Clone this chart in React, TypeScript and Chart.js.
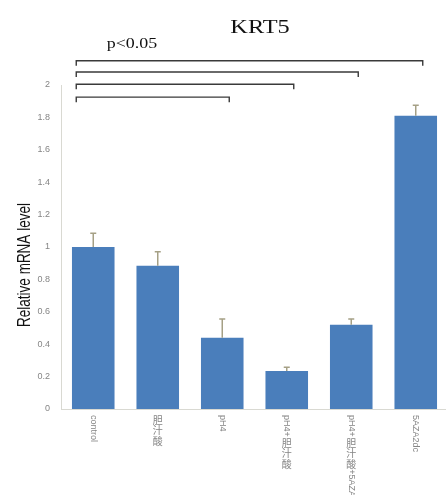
import React, { useEffect, useRef } from "react";
import { Chart, registerables } from "chart.js";

Chart.register(...registerables);

const categories = ["control", "胆汁酸", "pH4", "pH4+胆汁酸", "pH4+胆汁酸+5AZA2dc", "5AZA2dc"];
const values = [1.0, 0.885, 0.44, 0.235, 0.52, 1.81];
const errorUpper = [0.085, 0.085, 0.115, 0.022, 0.035, 0.065];
const yTicks = [0, 0.2, 0.4, 0.6, 0.8, 1, 1.2, 1.4, 1.6, 1.8, 2];
const bracketTargets = [5, 4, 3, 2];
const bracketLevels = [2.15, 2.08, 2.005, 1.925];
const titleText = "KRT5";
const pText = "p<0.05";
const yTitle = "Relative mRNA level";

const BAR = "#4a7ebb";
const ERR = "#a5a085";
const AXIS = "#d9d9d2";
const TICK = "#858585";

const isCJK = (ch: string) => /[\u3400-\u9fff]/.test(ch);

const overlay = {
  id: "overlay",
  afterDatasetsDraw(chart: any) {
    const ctx = chart.ctx as CanvasRenderingContext2D;
    const x = chart.scales.x;
    const y = chart.scales.y;
    const meta = chart.getDatasetMeta(0);

    // error bars (upper only)
    ctx.save();
    ctx.strokeStyle = ERR;
    ctx.lineWidth = 1.5;
    meta.data.forEach((bar: any, i: number) => {
      const cx = bar.x;
      const top = y.getPixelForValue(values[i]);
      const et = y.getPixelForValue(values[i] + errorUpper[i]);
      ctx.beginPath();
      ctx.moveTo(cx, top);
      ctx.lineTo(cx, et);
      ctx.moveTo(cx - 3, et);
      ctx.lineTo(cx + 3, et);
      ctx.stroke();
    });
    ctx.restore();

    // significance brackets
    ctx.save();
    ctx.strokeStyle = "#3a3a3a";
    ctx.lineWidth = 1.4;
    const x0 = x.getPixelForValue(0) - 17;
    bracketTargets.forEach((t, k) => {
      const x1 = x.getPixelForValue(t) + 7;
      const yy = y.getPixelForValue(bracketLevels[k]);
      ctx.beginPath();
      ctx.moveTo(x0, yy + 5);
      ctx.lineTo(x0, yy);
      ctx.lineTo(x1, yy);
      ctx.lineTo(x1, yy + 5);
      ctx.stroke();
    });
    ctx.restore();

    // title and p text (serif, horizontally stretched)
    ctx.save();
    ctx.fillStyle = "#111";
    ctx.textAlign = "center";
    ctx.textBaseline = "alphabetic";
    ctx.translate(260, 33);
    ctx.scale(1.28, 1);
    ctx.font = "19px 'Liberation Serif', serif";
    ctx.fillText(titleText, 0, 0);
    ctx.restore();

    ctx.save();
    ctx.fillStyle = "#111";
    ctx.textAlign = "center";
    ctx.textBaseline = "alphabetic";
    ctx.translate(132, 48);
    ctx.scale(1.28, 1);
    ctx.font = "14px 'Liberation Serif', serif";
    ctx.fillText(pText, 0, 0);
    ctx.restore();

    // y axis title
    ctx.save();
    ctx.fillStyle = "#111";
    ctx.translate(25, 265);
    ctx.rotate(-Math.PI / 2);
    ctx.scale(0.9, 1.25);
    ctx.textAlign = "center";
    ctx.textBaseline = "middle";
    ctx.font = "15px 'Liberation Sans', sans-serif";
    ctx.fillText(yTitle, 0, 0);
    ctx.restore();

    // x labels: Latin rotated clockwise, CJK upright stacked
    ctx.save();
    ctx.fillStyle = TICK;
    categories.forEach((label, i) => {
      const cx = x.getPixelForValue(i);
      let cy = y.bottom + 6;
      const runs: { cjk: boolean; text: string }[] = [];
      for (const ch of label) {
        const c = isCJK(ch);
        if (runs.length && runs[runs.length - 1].cjk === c && !c) runs[runs.length - 1].text += ch;
        else runs.push({ cjk: c, text: ch });
      }
      runs.forEach((r) => {
        if (r.cjk) {
          ctx.font = "10px 'Noto Sans CJK SC', sans-serif";
          ctx.textAlign = "center";
          ctx.textBaseline = "top";
          ctx.fillText(r.text, cx, cy);
          cy += 10.5;
        } else {
          ctx.font = "9px 'Liberation Sans', sans-serif";
          const w = ctx.measureText(r.text).width;
          ctx.save();
          ctx.translate(cx, cy);
          ctx.rotate(Math.PI / 2);
          ctx.textAlign = "left";
          ctx.textBaseline = "middle";
          ctx.fillText(r.text, 0, 0);
          ctx.restore();
          cy += w + 1;
        }
      });
    });
    ctx.restore();
  },
};

export default function App() {
  const ref = useRef<HTMLCanvasElement>(null);
  useEffect(() => {
    if (!ref.current) return;
    const chart = new Chart(ref.current, {
      type: "bar",
      data: {
        labels: categories,
        datasets: [
          {
            data: values,
            backgroundColor: BAR,
            borderWidth: 0,
            barPercentage: 0.66,
            categoryPercentage: 1,
          },
        ],
      },
      options: {
        responsive: false,
        animation: false,
        layout: { padding: { top: 85, left: 0, right: 0, bottom: 0 } },
        plugins: {
          legend: { display: false },
          tooltip: { enabled: false },
          title: { display: false },
        },
        scales: {
          x: {
            grid: { display: false },
            border: { display: true, color: AXIS, width: 1 },
            ticks: { display: false },
            afterFit: (s: any) => {
              s.height = 86;
            },
          },
          y: {
            min: 0,
            max: 2,
            afterBuildTicks: (s: any) => {
              s.ticks = yTicks.map((v) => ({ value: v }));
            },
            ticks: {
              color: TICK,
              padding: 3,
              font: { size: 9, family: "'Liberation Sans', sans-serif" },
              callback: (v: any) => String(Number(Number(v).toFixed(1))),
            },
            grid: { display: false },
            border: { display: true, color: AXIS, width: 1 },
            afterFit: (s: any) => {
              s.width = 61;
            },
          },
        },
      },
      plugins: [overlay],
    });
    return () => chart.destroy();
  }, []);
  return (
    <div style={{ position: "fixed", left: 0, top: 0, width: 446, height: 495, overflow: "hidden", background: "#fff" }}>
      <canvas ref={ref} width={448} height={495} style={{ display: "block" }} />
    </div>
  );
}
